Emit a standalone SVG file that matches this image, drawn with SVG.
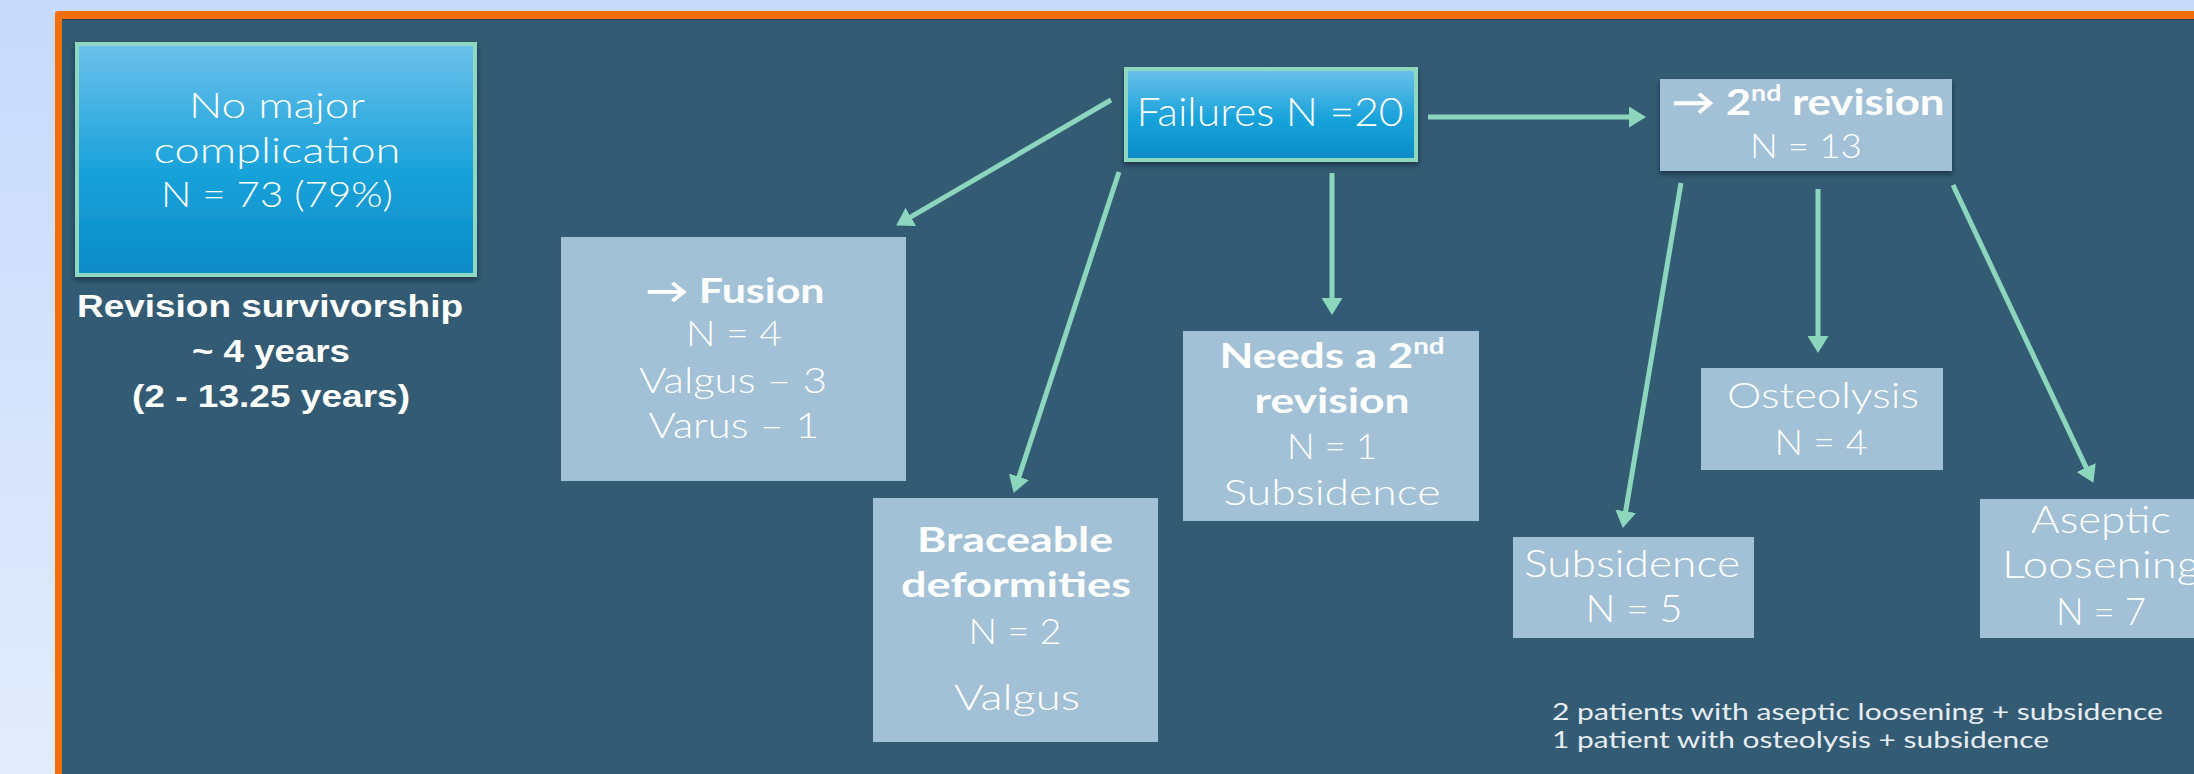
<svg xmlns="http://www.w3.org/2000/svg" width="2194" height="774" viewBox="0 0 2194 774">
<defs>
<linearGradient id="bg" x1="0" y1="0" x2="0" y2="1">
<stop offset="0" stop-color="#c7dafd"/><stop offset="1" stop-color="#e2ecfc"/>
</linearGradient>
<linearGradient id="blue" x1="0" y1="0" x2="0" y2="1">
<stop offset="0" stop-color="#6cc1ec"/><stop offset="0.55" stop-color="#18a2da"/><stop offset="1" stop-color="#0a8bc6"/>
</linearGradient>
<filter id="sh" x="-10%" y="-10%" width="120%" height="130%">
<feDropShadow dx="0" dy="3" stdDeviation="2.5" flood-color="#0d2230" flood-opacity="0.7"/>
</filter>
<marker id="ah" markerUnits="userSpaceOnUse" markerWidth="17" markerHeight="21" refX="4" refY="10.5" orient="auto">
<path d="M0,0 L17,10.5 L0,21 Z" fill="#8dd6be"/>
</marker>
<style>
.lb{fill:#a2c1d6}
.bt{font-family:Lato,"Liberation Sans","DejaVu Sans",sans-serif;font-weight:300;fill:#ffffff;text-anchor:middle}
.b{font-weight:bold}
.rv{font-family:"Liberation Sans",Arial,sans-serif;font-weight:bold;fill:#ffffff;text-anchor:middle;font-size:32px}
.cn{stroke:#8dd6be;stroke-width:5;fill:none;marker-end:url(#ah)}
.fn{font-family:Lato,"Liberation Sans",sans-serif;fill:#e6edf2;font-size:24px}
</style>
</defs>
<rect x="0" y="0" width="2194" height="774" fill="url(#bg)"/>
<rect x="55" y="11" width="2160" height="790" rx="3" fill="#f46f0b"/>
<rect x="62" y="19" width="2150" height="780" fill="#345b74"/>
<line x1="62" y1="19.5" x2="2194" y2="19.5" stroke="#2a3e4a" stroke-width="1"/>

<g id="no-major">
<rect x="77" y="44" width="398" height="231" fill="url(#blue)" stroke="#8fd8c0" stroke-width="4" filter="url(#sh)"/>
<text class="bt" font-size="36" x="277" y="118" textLength="176" lengthAdjust="spacingAndGlyphs">No major</text>
<text class="bt" font-size="36" x="277" y="163" textLength="247" lengthAdjust="spacingAndGlyphs">complication</text>
<text class="bt" font-size="36" x="277" y="207" textLength="232" lengthAdjust="spacingAndGlyphs">N = 73 (79%)</text>
</g>

<g id="survivorship">
<text class="rv" x="270" y="317" textLength="386" lengthAdjust="spacingAndGlyphs">Revision survivorship</text>
<text class="rv" x="271" y="362" textLength="158" lengthAdjust="spacingAndGlyphs">~ 4 years</text>
<text class="rv" x="271" y="407" textLength="278" lengthAdjust="spacingAndGlyphs">(2 - 13.25 years)</text>
</g>

<g id="failures">
<rect x="1126" y="69" width="290" height="91" fill="url(#blue)" stroke="#8fd8c0" stroke-width="4" filter="url(#sh)"/>
<text class="bt" font-size="39" x="1270" y="126" textLength="267" lengthAdjust="spacingAndGlyphs">Failures N =20</text>
</g>

<g id="fusion">
<rect class="lb" x="561" y="237" width="345" height="244"/>
<text class="bt b" font-size="35" x="735" y="303" textLength="179" lengthAdjust="spacingAndGlyphs">→ Fusion</text>
<text class="bt" font-size="35" x="734" y="346" textLength="96" lengthAdjust="spacingAndGlyphs">N = 4</text>
<text class="bt" font-size="35" x="733" y="393" textLength="188" lengthAdjust="spacingAndGlyphs">Valgus – 3</text>
<text class="bt" font-size="35" x="734" y="438" textLength="171" lengthAdjust="spacingAndGlyphs">Varus – 1</text>
</g>

<g id="braceable">
<rect class="lb" x="873" y="498" width="285" height="244"/>
<text class="bt b" font-size="35" x="1015" y="552" textLength="196" lengthAdjust="spacingAndGlyphs">Braceable</text>
<text class="bt b" font-size="35" x="1016" y="597" textLength="230" lengthAdjust="spacingAndGlyphs">deformities</text>
<text class="bt" font-size="35" x="1015" y="644" textLength="93" lengthAdjust="spacingAndGlyphs">N = 2</text>
<text class="bt" font-size="35" x="1017" y="710" textLength="126" lengthAdjust="spacingAndGlyphs">Valgus</text>
</g>

<g id="needs">
<rect class="lb" x="1183" y="331" width="296" height="190"/>
<text class="bt b" font-size="35" x="1332" y="368" textLength="225" lengthAdjust="spacingAndGlyphs">Needs a 2<tspan font-size="22" dy="-14">nd</tspan></text>
<text class="bt b" font-size="35" x="1332" y="413" textLength="155" lengthAdjust="spacingAndGlyphs">revision</text>
<text class="bt" font-size="35" x="1332" y="459" textLength="90" lengthAdjust="spacingAndGlyphs">N = 1</text>
<text class="bt" font-size="35" x="1332" y="505" textLength="217" lengthAdjust="spacingAndGlyphs">Subsidence</text>
</g>

<g id="second-revision">
<rect class="lb" x="1660" y="79" width="292" height="92" filter="url(#sh)"/>
<text class="bt b" font-size="36" x="1808" y="115" textLength="273" lengthAdjust="spacingAndGlyphs">→ 2<tspan font-size="22" dy="-14">nd</tspan><tspan dy="14"> revision</tspan></text>
<text class="bt" font-size="34" x="1806" y="158" textLength="112" lengthAdjust="spacingAndGlyphs">N = 13</text>
</g>

<g id="osteolysis">
<rect class="lb" x="1701" y="368" width="242" height="102"/>
<text class="bt" font-size="36" x="1823" y="408" textLength="192" lengthAdjust="spacingAndGlyphs">Osteolysis</text>
<text class="bt" font-size="36" x="1821" y="455" textLength="93" lengthAdjust="spacingAndGlyphs">N = 4</text>
</g>

<g id="subsidence">
<rect class="lb" x="1513" y="537" width="241" height="101"/>
<text class="bt" font-size="38" x="1632" y="577" textLength="216" lengthAdjust="spacingAndGlyphs">Subsidence</text>
<text class="bt" font-size="38" x="1634" y="622" textLength="97" lengthAdjust="spacingAndGlyphs">N = 5</text>
</g>

<g id="aseptic">
<rect class="lb" x="1980" y="499" width="240" height="139"/>
<text class="bt" font-size="38" x="2101" y="533" textLength="140" lengthAdjust="spacingAndGlyphs">Aseptic</text>
<text class="bt" font-size="38" x="2101" y="578" textLength="198" lengthAdjust="spacingAndGlyphs">Loosening</text>
<text class="bt" font-size="38" x="2101" y="625" textLength="90" lengthAdjust="spacingAndGlyphs">N = 7</text>
</g>

<g id="footnote">
<text class="fn" x="1552" y="720" textLength="611" lengthAdjust="spacingAndGlyphs">2 patients with aseptic loosening + subsidence</text>
<text class="fn" x="1552" y="748" textLength="497" lengthAdjust="spacingAndGlyphs">1 patient with osteolysis + subsidence</text>
</g>

<g id="connectors">
<line class="cn" x1="1111" y1="100" x2="907.4" y2="218.9"/>
<line class="cn" x1="1119" y1="172" x2="1017.7" y2="480.6"/>
<line class="cn" x1="1332" y1="173" x2="1332" y2="302"/>
<line class="cn" x1="1428" y1="117" x2="1633" y2="117"/>
<line class="cn" x1="1681" y1="183" x2="1625" y2="515.2"/>
<line class="cn" x1="1818" y1="189" x2="1818" y2="340"/>
<line class="cn" x1="1953" y1="185" x2="2087.9" y2="471.1"/>
</g>
</svg>
